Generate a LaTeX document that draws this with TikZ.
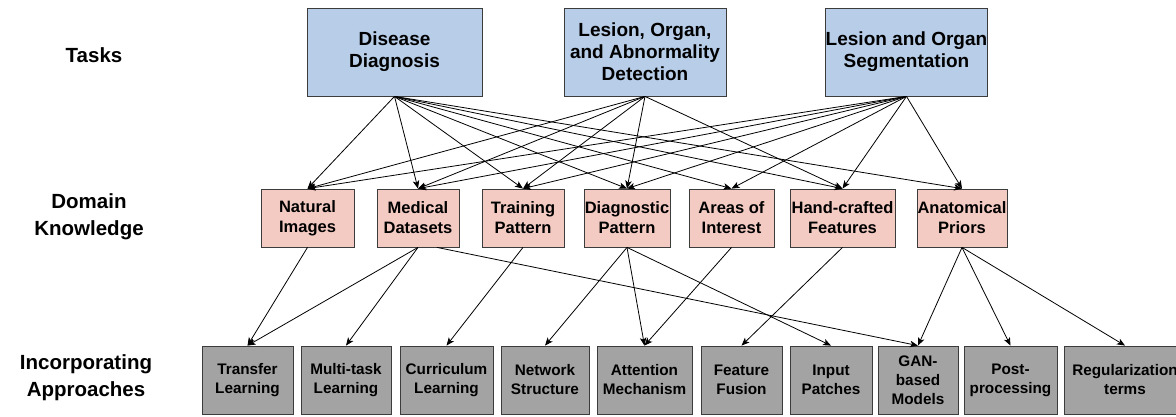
\documentclass[tikz,border=0pt]{standalone}
\usepackage{fontspec}
\setmainfont{Liberation Sans}
\usetikzlibrary{arrows.meta}
\definecolor{taskblue}{HTML}{B7CDE8}
\definecolor{dkpink}{HTML}{F4CBC3}
\definecolor{appgray}{HTML}{A3A3A3}
\definecolor{edgegray}{HTML}{3C3C3C}
\begin{document}
\begin{tikzpicture}[x=1pt,y=-1pt,
  box/.style={draw=edgegray,line width=0.8pt,inner sep=0pt,align=center,font=\bfseries},
  taskbox/.style={box,fill=taskblue,minimum height=88pt,font=\bfseries\fontsize{19}{22}\selectfont},
  dkbox/.style={box,fill=dkpink,minimum height=58pt,font=\bfseries\fontsize{16.5}{20}\selectfont},
  appbox/.style={box,fill=appgray,minimum height=68pt,font=\bfseries\fontsize{15.3}{19}\selectfont},
  rowlabel/.style={align=center,font=\bfseries\fontsize{20.5}{27}\selectfont},
  arr/.style={-{Stealth[length=8pt,width=6.5pt,inset=2pt]},line width=0.8pt,black}]
\useasboundingbox (0,0) rectangle (1176,417);

% row labels
\node[rowlabel] (lt) at (94,55) {Tasks};
\node[rowlabel] (ld) at (89,217) {Domain\\Knowledge};
\node[rowlabel] (la) at (86,378) {Incorporating\\Approaches};

% tasks
\node[taskbox,minimum width=175pt] (dd) at (394.5,52) {Disease\\Diagnosis};
\node[taskbox,minimum width=162pt] (lod) at (645,52) {Lesion, Organ,\\and Abnormality\\Detection};
\node[taskbox,minimum width=159pt] (seg) at (906.5,52) {Lesion and Organ\\Segmentation};

% domain knowledge
\node[dkbox,minimum width=93pt] (ni) at (307.5,218) {Natural\\Images};
\node[dkbox,minimum width=82pt] (md) at (418,218) {Medical\\Datasets};
\node[dkbox,minimum width=82pt] (tp) at (523,218) {Training\\Pattern};
\node[dkbox,minimum width=86pt] (dp) at (627,218) {Diagnostic\\Pattern};
\node[dkbox,minimum width=85pt] (aoi) at (731.5,218) {Areas of\\Interest};
\node[dkbox,minimum width=105pt] (hc) at (842.5,218) {Hand-crafted\\Features};
\node[dkbox,minimum width=90pt] (ap) at (962,218) {Anatomical\\Priors};

% approaches
\node[appbox,minimum width=91pt] (tl) at (247.5,380) {Transfer\\Learning};
\node[appbox,minimum width=90pt] (mt) at (346,380) {Multi-task\\Learning};
\node[appbox,minimum width=93pt] (cl) at (446.5,380) {Curriculum\\Learning};
\node[appbox,minimum width=88pt] (ns) at (545,380) {Network\\Structure};
\node[appbox,minimum width=95pt] (am) at (644.5,380) {Attention\\Mechanism};
\node[appbox,minimum width=81pt] (ff) at (741.5,380) {Feature\\Fusion};
\node[appbox,minimum width=82pt] (ip) at (831,380) {Input\\Patches};
\node[appbox,minimum width=80pt] (gan) at (918,380) {GAN-\\based\\Models};
\node[appbox,minimum width=93pt] (pp) at (1010.5,380) {Post-\\processing};
\node[appbox,minimum width=122pt] (rt) at (1125,380) {Regularization\\terms};

% tasks -> domain knowledge
\foreach \t in {ni,md,tp,dp,aoi,hc,ap} \draw[arr] (dd.south) -- (\t.north);
\foreach \t in {ni,md,tp,dp,hc} \draw[arr] (lod.south) -- (\t.north);
\foreach \t in {ni,md,tp,dp,aoi,hc,ap} \draw[arr] (seg.south) -- (\t.north);

% domain knowledge -> approaches
\draw[arr] (ni.south) -- (tl.north);
\draw[arr] (md.south) -- (tl.north);
\draw[arr] (md.south) -- (mt.north);
\draw[arr] ([xshift=19pt]md.south) -- (gan.north);
\draw[arr] (tp.south) -- (cl.north);
\draw[arr] (dp.south) -- (ns.north);
\draw[arr] (dp.south) -- (am.north);
\draw[arr] (dp.south) -- (ip.north);
\draw[arr] (aoi.south) -- (am.north);
\draw[arr] (hc.south) -- (ff.north);
\draw[arr] (ap.south) -- (gan.north);
\draw[arr] (ap.south) -- (pp.north);
\draw[arr] (ap.south) -- (rt.north);
\end{tikzpicture}
\end{document}
